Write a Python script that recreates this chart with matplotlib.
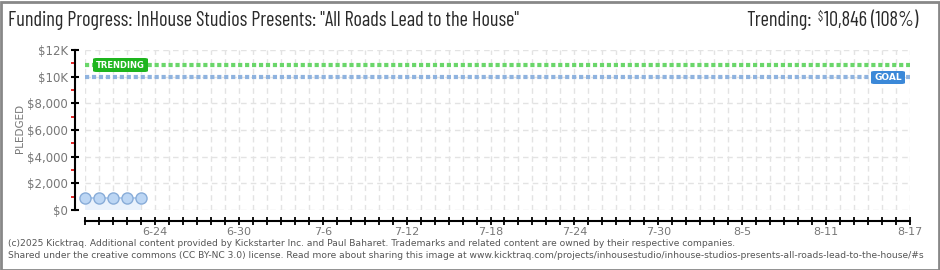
import matplotlib
matplotlib.use("Agg")
import matplotlib.pyplot as plt
import matplotlib.dates as mdates
from matplotlib import font_manager
from matplotlib.ticker import FixedLocator
from matplotlib.patches import FancyBboxPatch
import datetime as dt

# ---- data ----
pledge_dates = ["2025-06-19", "2025-06-20", "2025-06-21", "2025-06-22", "2025-06-23"]
pledge_values = [880, 880, 880, 880, 880]
goal_value = 10000
trending_value = 10846
x_start = "2025-06-19"
x_end = "2025-08-17"
x_label_dates = ["2025-06-24", "2025-06-30", "2025-07-06", "2025-07-12", "2025-07-18",
                 "2025-07-24", "2025-07-30", "2025-08-05", "2025-08-11", "2025-08-17"]
y_ticks = [0, 2000, 4000, 6000, 8000, 10000, 12000]
y_tick_labels = ["$0", "$2,000", "$4,000", "$6,000", "$8,000", "$10K", "$12K"]
y_minor_ticks = [1000, 3000, 5000, 7000, 9000, 11000]
title = 'Funding Progress: InHouse Studios Presents: "All Roads Lead to the House"'
trend_label = "Trending:"
trend_text = "10,846 (108%)"
footer1 = ("(c)2025 Kicktraq. Additional content provided by Kickstarter Inc. and Paul Baharet. "
           "Trademarks and related content are owned by their respective companies.")
footer2 = ("Shared under the creative commons (CC BY-NC 3.0) license. Read more about sharing this image at "
           "www.kicktraq.com/projects/inhousestudio/inhouse-studios-presents-all-roads-lead-to-the-house/#s")

names = set(f.name for f in font_manager.fontManager.ttflist)
narrow = next((n for n in ["Barlow Condensed", "Archivo Narrow", "Roboto Condensed",
                           "Asap Condensed", "DejaVu Sans"] if n in names), "DejaVu Sans")

def d(s):
    return mdates.date2num(dt.datetime.strptime(s, "%Y-%m-%d"))

W, H = 940, 270
fig = plt.figure(figsize=(W / 100, H / 100), dpi=100)
fig.patch.set_facecolor("white")

L, R, T, B = 85, 910, 50, 210
ax = fig.add_axes([L / W, 1 - B / H, (R - L) / W, (B - T) / H])
ax.set_facecolor("white")
x0, x1 = d(x_start), d(x_end)
ax.set_xlim(x0, x1)
ax.set_ylim(0, 12000)

# grid
days = [x0 + i for i in range(int(round(x1 - x0)) + 1)]
grid_kw = dict(color="#e3e3e3", lw=1, dashes=(4, 3), zorder=0)
for xv in days:
    ax.axvline(xv, **grid_kw)
for yv in y_ticks:
    ax.axhline(yv, **grid_kw)

# pledged
px = [d(s) for s in pledge_dates]
ax.fill_between(px, 0, pledge_values, color="#eaf2fc", zorder=1, lw=0)
ax.plot(px, pledge_values, color="#a9c8ee", lw=1.2, zorder=2)
ax.plot(px, pledge_values, "o", ms=8, mfc="#bcd6f4", mec="#88acd8", mew=1, zorder=3,
        clip_on=False)

# goal & trending lines
ax.axhline(trending_value, color="#6ad66a", lw=3, dashes=(1.0, 0.67), zorder=4)
ax.axhline(goal_value, color="#8fb3df", lw=3, dashes=(1.0, 0.67), zorder=4)

# label boxes
def label_box(xpix, ypix, wpix, hpix, text, color, fs):
    fx, fy = xpix / W, 1 - (ypix + hpix) / H
    fig.patches.append(FancyBboxPatch((fx, fy), wpix / W, hpix / H,
                                      boxstyle="round,pad=0,rounding_size=0.004",
                                      transform=fig.transFigure, fc=color, ec="none", zorder=10))
    fig.text((xpix + wpix / 2) / W, 1 - (ypix + hpix / 2) / H, text, color="white",
             ha="center", va="center", fontsize=fs, fontweight="bold", zorder=11)

label_box(93, 58, 55, 14, "TRENDING", "#1eb51e", 6.0)
label_box(871, 71, 34, 13, "GOAL", "#3b88d8", 6.5)

# spines
for s in ["top", "right"]:
    ax.spines[s].set_visible(False)
ax.spines["left"].set_position(("outward", 7.2))
ax.spines["bottom"].set_position(("outward", 8.0))
ax.spines["left"].set_bounds(0, 12000)
ax.spines["bottom"].set_bounds(x0, x1)
for s in ["left", "bottom"]:
    ax.spines[s].set_linewidth(1.5)
    ax.spines[s].set_color("black")

ax.yaxis.set_major_locator(FixedLocator(y_ticks))
ax.set_yticklabels(y_tick_labels)
ax.yaxis.set_minor_locator(FixedLocator(y_minor_ticks))
ax.tick_params(axis="y", which="major", direction="inout", length=6, width=1.5,
               color="black", labelsize=8.5, labelcolor="#777777", pad=2)
ax.tick_params(axis="y", which="minor", direction="out", length=3, width=1.2, color="#e00000")

ax.xaxis.set_major_locator(FixedLocator([d(s) for s in x_label_dates]))
ax.set_xticklabels([f"{int(s[5:7])}-{int(s[8:10])}" for s in x_label_dates])
ax.xaxis.set_minor_locator(FixedLocator(days))
ax.tick_params(axis="x", which="both", direction="inout", length=6, width=1.3, color="black")
ax.tick_params(axis="x", which="major", labelsize=8, labelcolor="#777777", pad=1.5)

fig.text(20 / W, 1 - 128 / H, "PLEDGED", rotation=90, ha="center", va="center",
         fontsize=7.5, color="#777777")

# title
tfs = 14.6
fig.text(8 / W, 1 - 21 / H, title, ha="left", va="center", fontsize=tfs,
         color="#2a2a2a", family=narrow)
t_num = fig.text(918 / W, 1 - 21 / H, trend_text, ha="right", va="center", fontsize=tfs,
                 color="#2a2a2a", family=narrow)
fig.canvas.draw()
r = fig.canvas.get_renderer()
bb = t_num.get_window_extent(r)
t_dol = fig.text((bb.x0 - 1) / W, 1 - 17 / H, "$", ha="right", va="center", fontsize=9,
                 color="#2a2a2a", family=narrow)
bb2 = t_dol.get_window_extent(r)
fig.text((bb2.x0 - 6) / W, 1 - 21 / H, trend_label, ha="right", va="center", fontsize=tfs,
         color="#2a2a2a", family=narrow)

# footer
fig.text(8 / W, 1 - 243 / H, footer1, ha="left", va="center", fontsize=6.6, color="#555555")
fig.text(8 / W, 1 - 256 / H, footer2, ha="left", va="center", fontsize=6.6, color="#555555")

# border
fig.patches.append(plt.Rectangle((0.5 / W, 0.5 / H), (W - 2) / W, (H - 2) / H,
                                 transform=fig.transFigure, fill=False, ec="#888888", lw=2))

fig.savefig("out.png", dpi=100)
